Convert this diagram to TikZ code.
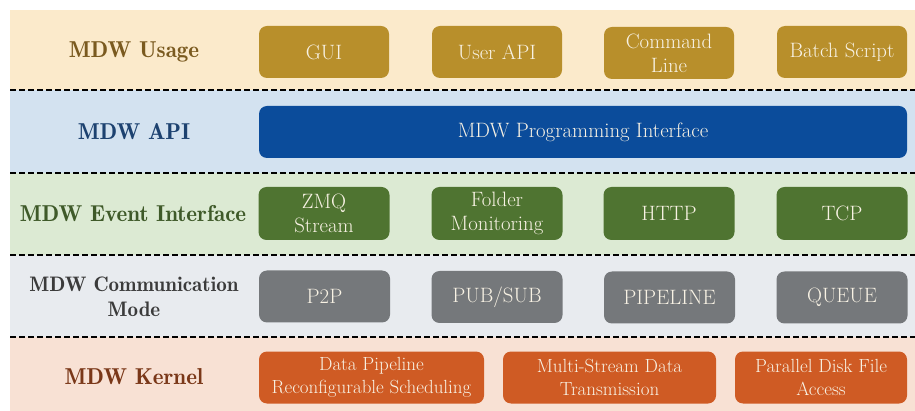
\documentclass[tikz,border=0pt]{standalone}
\usepackage{fontspec}
\newfontfamily\demifont{lmromandemi10-regular.otf}
\begin{document}
\begin{tikzpicture}[x=1pt,y=-1pt,
  sep/.style={draw=black,line width=1.8pt,dash pattern=on 6pt off 3pt},
  layer/.style={font=\demifont\fontsize{23}{25}\selectfont,align=center},
  smalllayer/.style={font=\demifont\fontsize{21}{25}\selectfont,align=center},
  tile/.style={rounded corners=8pt,draw=none,text=tiletext,align=center,
    font=\fontsize{20.8}{24}\selectfont,inner sep=0pt},
  ktile/.style={tile,font=\fontsize{19}{23}\selectfont}]
\definecolor{usagebg}{HTML}{FBEACB}
\definecolor{usagebox}{HTML}{B88F2B}
\definecolor{usagetxt}{HTML}{7A5A1F}
\definecolor{apibg}{HTML}{D3E2F0}
\definecolor{apibox}{HTML}{0B4C9B}
\definecolor{apitxt}{HTML}{1D4270}
\definecolor{evbg}{HTML}{DCEAD3}
\definecolor{evbox}{HTML}{4F7431}
\definecolor{evtxt}{HTML}{3F5A29}
\definecolor{combg}{HTML}{E8EBEF}
\definecolor{combox}{HTML}{75787B}
\definecolor{comtxt}{HTML}{3B3B3B}
\definecolor{kerbg}{HTML}{F8E1D4}
\definecolor{kerbox}{HTML}{CF5B24}
\definecolor{kertxt}{HTML}{7A3718}
\definecolor{tiletext}{HTML}{F8F2E4}
\useasboundingbox (0,0) rectangle (915,411);

% layer backgrounds
\fill[usagebg] (10,10) rectangle (915,90);
\fill[apibg] (10,90) rectangle (915,173);
\fill[evbg] (10,173) rectangle (915,255);
\fill[combg] (10,255) rectangle (915,337);
\fill[kerbg] (10,337) rectangle (915,411);

% dashed separators
\coordinate (s1a) at (10,90);  \coordinate (s1b) at (915,90);
\coordinate (s2a) at (10,173); \coordinate (s2b) at (915,173);
\coordinate (s3a) at (10,255); \coordinate (s3b) at (915,255);
\coordinate (s4a) at (10,337); \coordinate (s4b) at (915,337);
\draw[sep] (s1a) -- (s1b);
\draw[sep] (s2a) -- (s2b);
\draw[sep] (s3a) -- (s3b);
\draw[sep] (s4a) -- (s4b);

% layer names
\node[layer,text=usagetxt] (lusage) at (134,52) {MDW Usage};
\node[layer,text=apitxt] (lapi) at (134,132) {MDW API};
\node[layer,text=evtxt] (lev) at (133,214) {MDW Event Interface};
\node[smalllayer,text=comtxt] (lcom) at (134,297) {MDW Communication\\Mode};
\node[layer,text=kertxt] (lker) at (134,377) {MDW Kernel};

% usage row
\node[tile,fill=usagebox,minimum width=130pt,minimum height=52pt] (gui) at (324,52) {GUI};
\node[tile,fill=usagebox,minimum width=130pt,minimum height=52pt] (uapi) at (497,52) {User API};
\node[tile,fill=usagebox,minimum width=130pt,minimum height=52pt] (cmd) at (669,53) {Command\\Line};
\node[tile,fill=usagebox,minimum width=130pt,minimum height=52pt] (batch) at (842,52) {Batch Script};

% api row
\node[tile,fill=apibox,minimum width=648pt,minimum height=52pt] (prog) at (583,132) {MDW Programming Interface};

% event row
\node[tile,fill=evbox,minimum width=131pt,minimum height=53pt] (zmq) at (324,213.5) {ZMQ\\Stream};
\node[tile,fill=evbox,minimum width=131pt,minimum height=53pt] (folder) at (497,213.5) {Folder\\Monitoring};
\node[tile,fill=evbox,minimum width=131pt,minimum height=53pt] (http) at (669,213.5) {HTTP};
\node[tile,fill=evbox,minimum width=131pt,minimum height=53pt] (tcp) at (842,213.5) {TCP};

% communication row
\node[tile,fill=combox,minimum width=131pt,minimum height=52pt] (p2p) at (324.5,296.5) {P2P};
\node[tile,fill=combox,minimum width=131pt,minimum height=52pt] (pubsub) at (497,297) {PUB/SUB};
\node[tile,fill=combox,minimum width=131pt,minimum height=52pt] (pipe) at (669.5,297.5) {PIPELINE};
\node[tile,fill=combox,minimum width=131pt,minimum height=52pt] (queue) at (842,297.5) {QUEUE};

% kernel row
\node[ktile,fill=kerbox,minimum width=225pt,minimum height=52pt] (dpipe) at (371.5,377.5) {Data Pipeline\\Reconfigurable Scheduling};
\node[ktile,fill=kerbox,minimum width=213pt,minimum height=52pt] (mstream) at (609.5,377.5) {Multi-Stream Data\\Transmission};
\node[ktile,fill=kerbox,minimum width=172pt,minimum height=52pt] (pdisk) at (821,377.5) {Parallel Disk File\\Access};
\end{tikzpicture}
\end{document}
